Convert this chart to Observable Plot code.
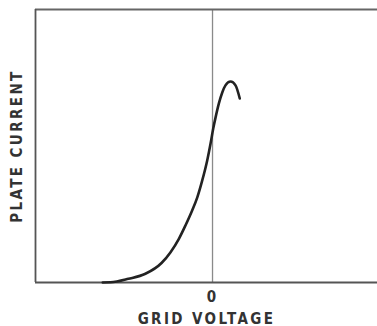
<!DOCTYPE html>
<html>
<head>
<meta charset="utf-8">
<script src="https://cdn.jsdelivr.net/npm/d3@7"></script>
<script src="https://cdn.jsdelivr.net/npm/@observablehq/plot@0.6"></script>
<style>
  html, body { margin: 0; padding: 0; background: #fff; }
</style>
</head>
<body>
<div id="chart"></div>
<script>
// Grid voltage (arbitrary units, 0 = zero bias) and plate current (arbitrary units)
const gridVoltage = [-6.2, -5.76, -4.75, -3.79, -2.88, -2.37, -1.90, -1.53, -1.15, -0.86, -0.58, -0.30, -0.11, 0.04, 0.17, 0.36, 0.55, 0.73, 1.02, 1.30, 1.54];
const plateCurrent = [0.0, 0.07, 1.36, 3.19, 7.14, 11.1, 16.0, 20.9, 26.4, 31.2, 37.4, 44.7, 50.9, 56.4, 60.4, 65.6, 69.6, 72.2, 73.6, 72.2, 67.4];
const xTicks = [0];
const xTickLabels = ["0"];
const xLabel = "GRID VOLTAGE";
const yLabel = "PLATE CURRENT";
const xDomain = [-10, 9.32];
const yDomain = [0, 100];

const curve = gridVoltage.map((v, i) => ({v, i: plateCurrent[i]}));
const FONT = "'DejaVu Sans Condensed', 'DejaVu Sans', sans-serif";

const plot = Plot.plot({
  width: 377,
  height: 326,
  marginLeft: 35,
  marginRight: 0,
  marginTop: 9,
  marginBottom: 44,
  style: {fontFamily: FONT, background: "#fff"},
  x: {domain: xDomain},
  y: {domain: yDomain},
  marks: [
    Plot.ruleX([0], {stroke: "#8a8a8a", strokeWidth: 1.3}),
    Plot.ruleY([yDomain[0]], {stroke: "#555", strokeWidth: 2}),
    Plot.ruleY([yDomain[1]], {stroke: "#666", strokeWidth: 1.8}),
    Plot.ruleX([xDomain[0]], {stroke: "#555", strokeWidth: 1.8}),
    Plot.line(curve, {x: "v", y: "i", curve: "monotone-x", stroke: "#222", strokeWidth: 2.6}),
    Plot.axisX({
      ticks: xTicks, tickFormat: (d, k) => xTickLabels[k], tickSize: 0, tickPadding: 9,
      fontSize: 15, fontWeight: "bold", fill: "#333",
      label: xLabel, labelAnchor: "center", labelArrow: "none", labelOffset: 41
    }),
    Plot.axisY({
      ticks: [], tickSize: 0,
      fontSize: 15, fontWeight: "bold", fill: "#333",
      label: yLabel, labelAnchor: "center", labelArrow: "none", labelOffset: 24
    })
  ]
});
d3.select(plot).selectAll("text")
  .attr("letter-spacing", "2.4px")
  .attr("font-weight", "bold")
  .attr("font-size", 15)
  .attr("font-family", FONT)
  .attr("fill", "#333");
document.getElementById("chart").appendChild(plot);
</script>
</body>
</html>
